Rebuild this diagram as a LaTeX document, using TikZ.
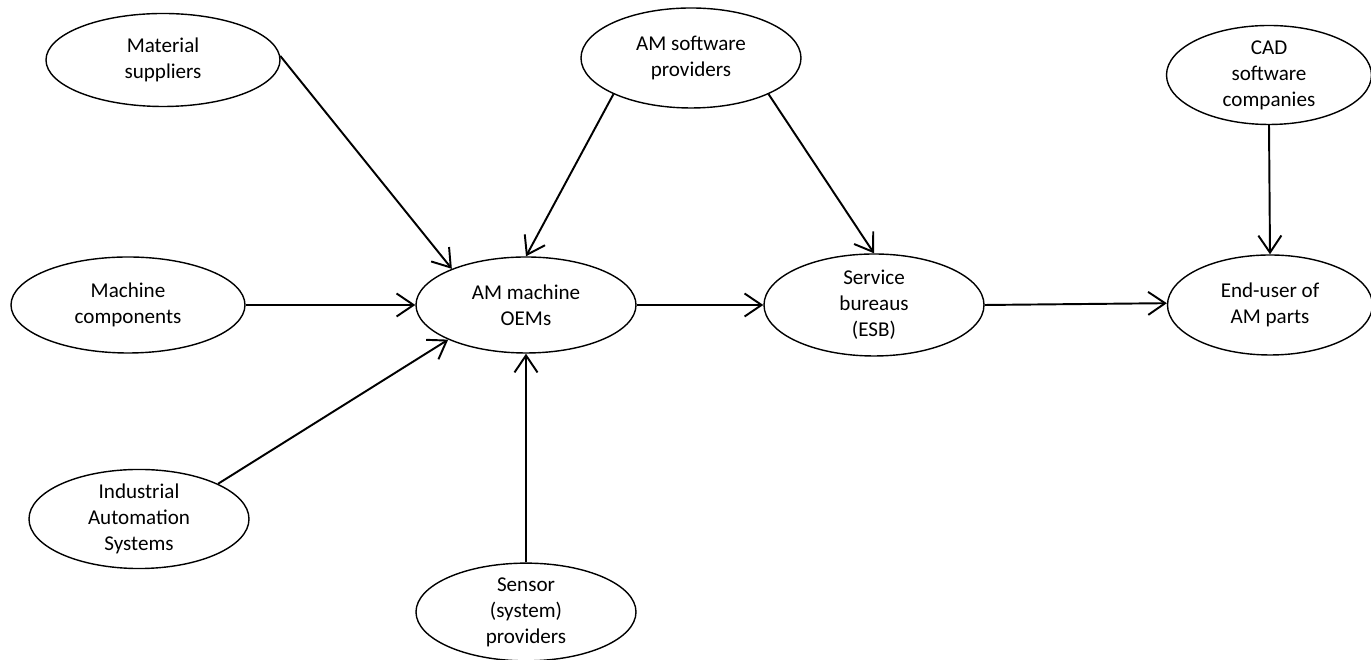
\documentclass[tikz,border=0pt]{standalone}
\usepackage{fontspec}
\setmainfont{Carlito}
\usetikzlibrary{shapes.geometric, arrows.meta}

\begin{document}
\begin{tikzpicture}[line width=1.1pt, >={Straight Barb[length=3.4mm, width=4.6mm]},
  actor/.style = {draw, ellipse, line width=0.8pt, inner sep=0pt, align=center,
    minimum width=4.4cm, minimum height=1.92cm, font=\fontsize{12}{14.8}\selectfont}]
  \useasboundingbox (0,0) rectangle (27.42,13.2);

  \node[actor, minimum width=4.68cm, minimum height=1.86cm] (mat) at (3.26,12.0) {Material\\suppliers};
  \node[actor, minimum height=2.0cm] (amsw) at (13.82,12.04) {AM software\\providers};
  \node[actor, minimum width=4.1cm, minimum height=1.98cm] (cad) at (25.38,11.7) {CAD\\software\\companies};
  \node[actor, minimum width=4.68cm] (mach) at (2.56,7.1) {Machine\\components};
  \node[actor] (oem) at (10.52,7.1) {AM machine\\OEMs};
  \node[actor, minimum height=2.04cm] (esb) at (17.48,7.1) {Service\\bureaus\\(ESB)};
  \node[actor, minimum width=4.1cm, minimum height=2.0cm] (user) at (25.4,7.1) {End-user of\\AM parts};
  \node[actor, minimum height=1.96cm] (ias) at (2.78,2.82) {Industrial\\Automation\\Systems};
  \node[actor, minimum height=1.88cm] (sens) at (10.52,0.96) {Sensor\\(system)\\providers};

  \draw[->] (mat.2) -- (oem.154);
  \draw[->] (amsw.205) -- (oem.north);
  \draw[->] (amsw.-25) -- (esb.north);
  \draw[->] (cad.south) -- (user.north);
  \draw[->] (mach.east) -- (oem.west);
  \draw[->] (oem.east) -- (esb.west);
  \draw[->] (esb.east) -- (user.179);
  \draw[->] (ias.24) -- (oem.204);
  \draw[->] (sens.north) -- (oem.south);
\end{tikzpicture}
\end{document}
